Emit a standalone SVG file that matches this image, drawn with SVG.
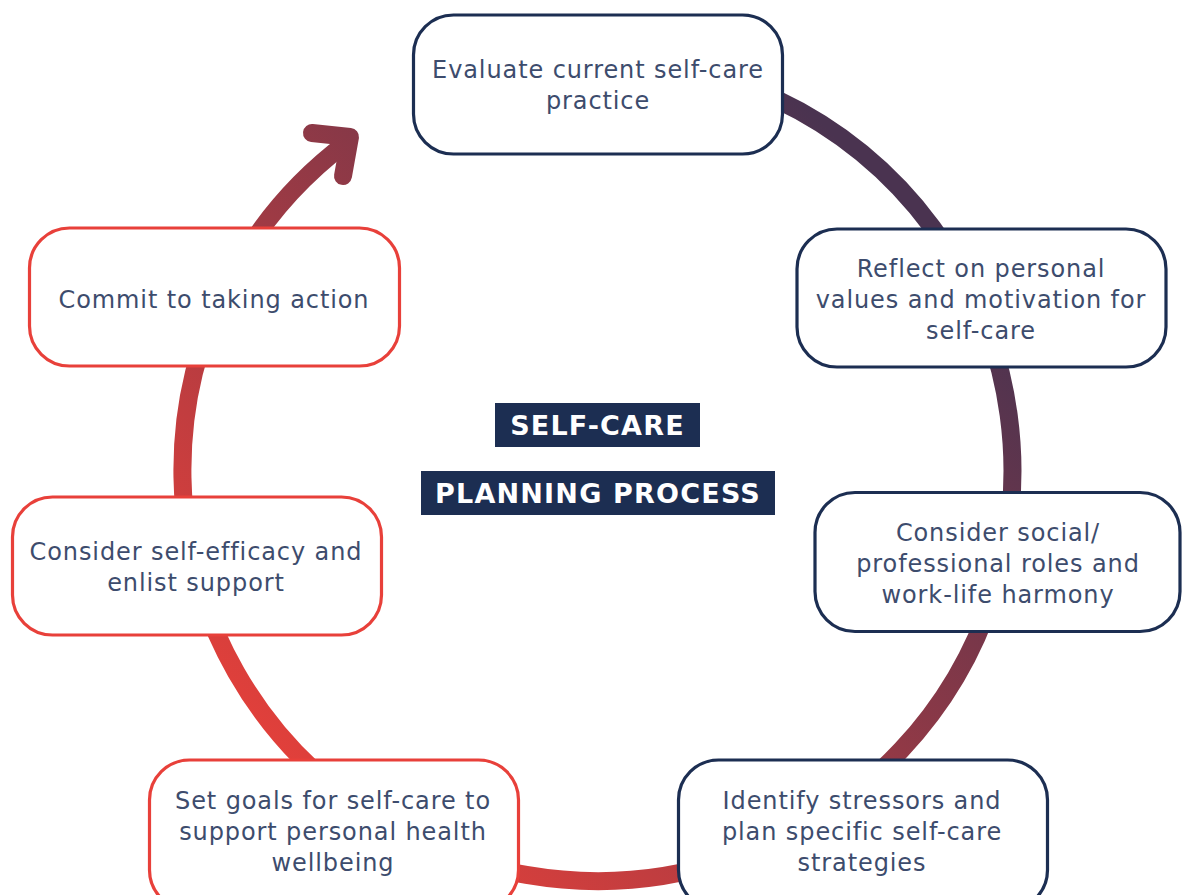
<svg xmlns="http://www.w3.org/2000/svg" width="1184" height="895" viewBox="0 0 1184 895">
<defs>
<linearGradient id="ring" gradientUnits="userSpaceOnUse" x1="348" y1="848" x2="948" y2="248">
<stop offset="0" stop-color="#e5403a"/>
<stop offset="1" stop-color="#4a3350"/>
</linearGradient>
<style>
.box{fill:#ffffff;stroke-width:3.2}
.navy{stroke:#1c2e52}
.red{stroke:#e8403a}
.lbl{font-family:"DejaVu Sans","Liberation Sans",sans-serif;font-size:24px;font-weight:400;letter-spacing:0.9px;fill:#3d4c6d;text-anchor:middle}
.ttl{font-family:"DejaVu Sans","Liberation Sans",sans-serif;font-size:27px;font-weight:700;letter-spacing:1.2px;fill:#ffffff;text-anchor:middle}
.ttlbg{fill:#1c2e52}
</style>
</defs>
<rect width="1184" height="895" fill="#ffffff"/>
<g id="connectors" fill="none" stroke="url(#ring)" stroke-width="18" stroke-linecap="round" stroke-linejoin="round">
<path d="M 598 59 A 415 411 0 1 1 346 143 L 349 138"/>
<path d="M 312 133 L 350 137 L 343 176"/>
</g>
<g id="n1"><rect class="box navy" x="413.5" y="15" width="369" height="139" rx="40"/>
<text class="lbl" x="598" y="78">Evaluate current self-care</text>
<text class="lbl" x="598" y="109">practice</text></g>
<g id="n2"><rect class="box navy" x="797" y="229" width="369" height="138" rx="40"/>
<text class="lbl" x="981" y="277">Reflect on personal</text>
<text class="lbl" x="981" y="308">values and motivation for</text>
<text class="lbl" x="981" y="339">self-care</text></g>
<g id="n3"><rect class="box navy" x="815" y="492.5" width="365" height="139" rx="40"/>
<text class="lbl" x="998" y="541">Consider social/</text>
<text class="lbl" x="998" y="572">professional roles and</text>
<text class="lbl" x="998" y="603">work-life harmony</text></g>
<g id="n4"><rect class="box navy" x="678.5" y="760" width="369" height="150" rx="40"/>
<text class="lbl" x="862" y="809">Identify stressors and</text>
<text class="lbl" x="862" y="840">plan specific self-care</text>
<text class="lbl" x="862" y="871">strategies</text></g>
<g id="n5"><rect class="box red" x="149.5" y="760" width="369" height="150" rx="40"/>
<text class="lbl" x="333" y="809">Set goals for self-care to</text>
<text class="lbl" x="333" y="840">support personal health</text>
<text class="lbl" x="333" y="871">wellbeing</text></g>
<g id="n6"><rect class="box red" x="12.5" y="497" width="369" height="138" rx="40"/>
<text class="lbl" x="196" y="560">Consider self-efficacy and</text>
<text class="lbl" x="196" y="591">enlist support</text></g>
<g id="n7"><rect class="box red" x="29.5" y="228" width="370" height="138" rx="40"/>
<text class="lbl" x="214" y="308">Commit to taking action</text></g>
<g id="title">
<rect class="ttlbg" x="495" y="403" width="205" height="44"/>
<text class="ttl" x="597.5" y="435">SELF-CARE</text>
<rect class="ttlbg" x="421" y="471" width="354" height="44"/>
<text class="ttl" x="598" y="503">PLANNING PROCESS</text>
</g>
</svg>
